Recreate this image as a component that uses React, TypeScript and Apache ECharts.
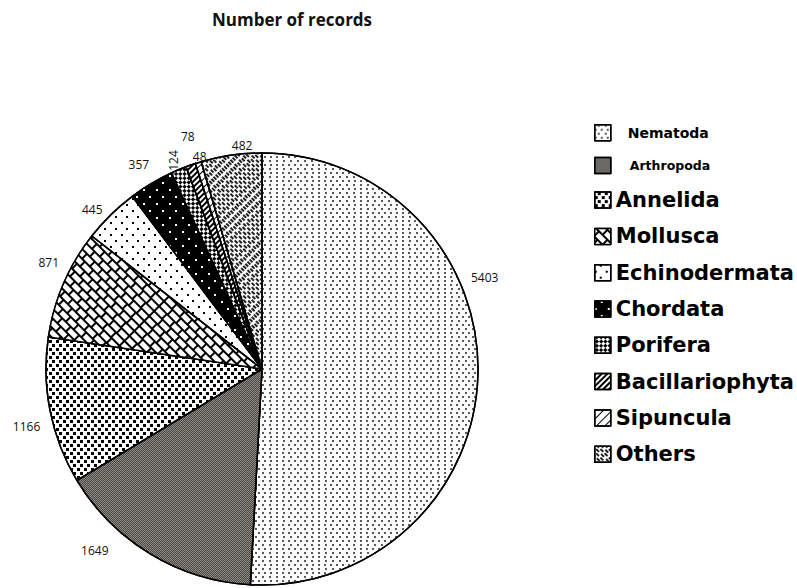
import React, { useEffect, useRef } from "react";
import * as echarts from "echarts";

const categories = [
  "Nematoda",
  "Arthropoda",
  "Annelida",
  "Mollusca",
  "Echinodermata",
  "Chordata",
  "Porifera",
  "Bacillariophyta",
  "Sipuncula",
  "Others",
];
const values = [5403, 1649, 1166, 871, 445, 357, 124, 78, 48, 482];

// label nudges (dx, dy) relative to the default outside position (Porifera's is in its rotated frame)
const labelShiftX = [-18, -34, 1, 6, 1, 6, 14, 11, 15, 27];
const labelShiftY = [-98, -9, 14, -19, -1, -14, 2, -23, 0, -4];

const fills = ["#ffffff", "#8e8a85", "#ffffff", "#000000", "#ffffff", "#000000", "#ffffff", "#ffffff", "#ffffff", "#ffffff"];

const decals: any[] = [
  { symbol: "rect", symbolSize: 1, symbolKeepAspect: false, color: "#5a5a5a", dashArrayX: [[1.4, 3.6], [0, 2.5, 1.4, 1.1]], dashArrayY: [1.4, 1.2] },
  { symbol: "rect", symbolSize: 1, symbolKeepAspect: false, color: "#4a4642", dashArrayX: [[1, 1], [0, 1, 1, 0]], dashArrayY: [1, 0] },
  { symbol: "rect", symbolSize: 1, symbolKeepAspect: false, color: "#000000", dashArrayX: [[2.4, 3.4], [0, 2.9, 2.4, 0.5]], dashArrayY: [2.2, 0.9] },
  { symbol: "rect", symbolSize: 1, symbolKeepAspect: false, color: "#ffffff", dashArrayX: [[9, 1.3], [3.85, 1.3, 5.15, 0]], dashArrayY: [4.6, 1.3], rotation: Math.PI / 4 },
  { symbol: "rect", symbolSize: 1, symbolKeepAspect: false, color: "#000000", dashArrayX: [[1.2, 8.8], [0, 5, 1.2, 3.8]], dashArrayY: [1.2, 3.8] },
  { symbol: "rect", symbolSize: 1, symbolKeepAspect: false, color: "#ffffff", dashArrayX: [[1.2, 10.8], [0, 6, 1.2, 4.8]], dashArrayY: [1.2, 4.8] },
  { symbol: "rect", symbolSize: 1, symbolKeepAspect: false, color: "#000000", dashArrayX: [[3, 3], [0, 3, 3, 0]], dashArrayY: [3, 0], rotation: Math.PI / 4 },
  { symbol: "rect", symbolSize: 1, symbolKeepAspect: false, color: "#000000", dashArrayX: [[1, 0]], dashArrayY: [1.3, 1.7], rotation: -Math.PI / 4 },
  { symbol: "rect", symbolSize: 1, symbolKeepAspect: false, color: "#000000", dashArrayX: [[1, 0]], dashArrayY: [1, 4.5], rotation: -Math.PI / 4 },
  { symbol: "rect", symbolSize: 1, symbolKeepAspect: false, color: "#222222", dashArrayX: [[4, 1.5], [0, 2.75, 4, 0]], dashArrayY: [1.5, 1], rotation: Math.PI / 4 },
];

export default function App() {
  const ref = useRef<HTMLDivElement>(null);
  useEffect(() => {
    if (!ref.current) return;
    const chart = echarts.init(ref.current, null, { renderer: "svg" });
    const data = categories.map((name, i) => ({
      name,
      value: values[i],
      itemStyle: { color: fills[i], decal: decals[i] },
      label: name === "Porifera" ? { rotate: 90 } : undefined,
    }));
    chart.setOption({
      animation: false,
      backgroundColor: "#ffffff",
      title: {
        text: "Number of records",
        left: 287,
        top: 6,
        textAlign: "center",
        textStyle: { fontFamily: "'Open Sans', sans-serif", fontWeight: "bold", fontSize: 17, color: "#111" },
      },
      legend: {
        orient: "vertical",
        left: 589,
        top: 119,
        itemWidth: 16,
        itemHeight: 16,
        itemGap: 15.3,
        icon: "rect",
        itemStyle: { borderColor: "#000", borderWidth: 1.5 },
        formatter: (name: string) => {
          if (name === "Nematoda") return `{n|${name}}`;
          if (name === "Arthropoda") return `{a|${name}}`;
          return `{b|${name}}`;
        },
        textStyle: {
          rich: {
            n: { fontFamily: "'DejaVu Sans', sans-serif", fontWeight: "bold", fontSize: 14, color: "#000", padding: [0, 0, 0, 12], lineHeight: 20 },
            a: { fontFamily: "'DejaVu Sans', sans-serif", fontWeight: "bold", fontSize: 12.5, color: "#000", padding: [0, 0, 0, 14], lineHeight: 20 },
            b: { fontFamily: "'DejaVu Sans', sans-serif", fontWeight: "bold", fontSize: 21, color: "#000", lineHeight: 20 },
          },
        },
      },
      series: [
        {
          type: "pie",
          center: [262, 369],
          radius: 216,
          startAngle: 90,
          clockwise: true,
          avoidLabelOverlap: false,
          data,
          itemStyle: { borderColor: "#000", borderWidth: 1.5 },
          label: {
            show: true,
            position: "outside",
            formatter: "{c}",
            fontFamily: "'Open Sans', sans-serif",
            fontSize: 12,
            color: "#111",
          },
          labelLine: { show: false, length: 6, length2: 0 },
          labelLayout: (params: any) => ({
            dx: labelShiftX[params.dataIndex],
            dy: labelShiftY[params.dataIndex],
            hideOverlap: false,
          }),
          emphasis: { disabled: true },
        },
      ],
    });
    return () => chart.dispose();
  }, []);
  return <div ref={ref} style={{ position: "absolute", left: 0, top: 0, width: 797, height: 588 }} />;
}
